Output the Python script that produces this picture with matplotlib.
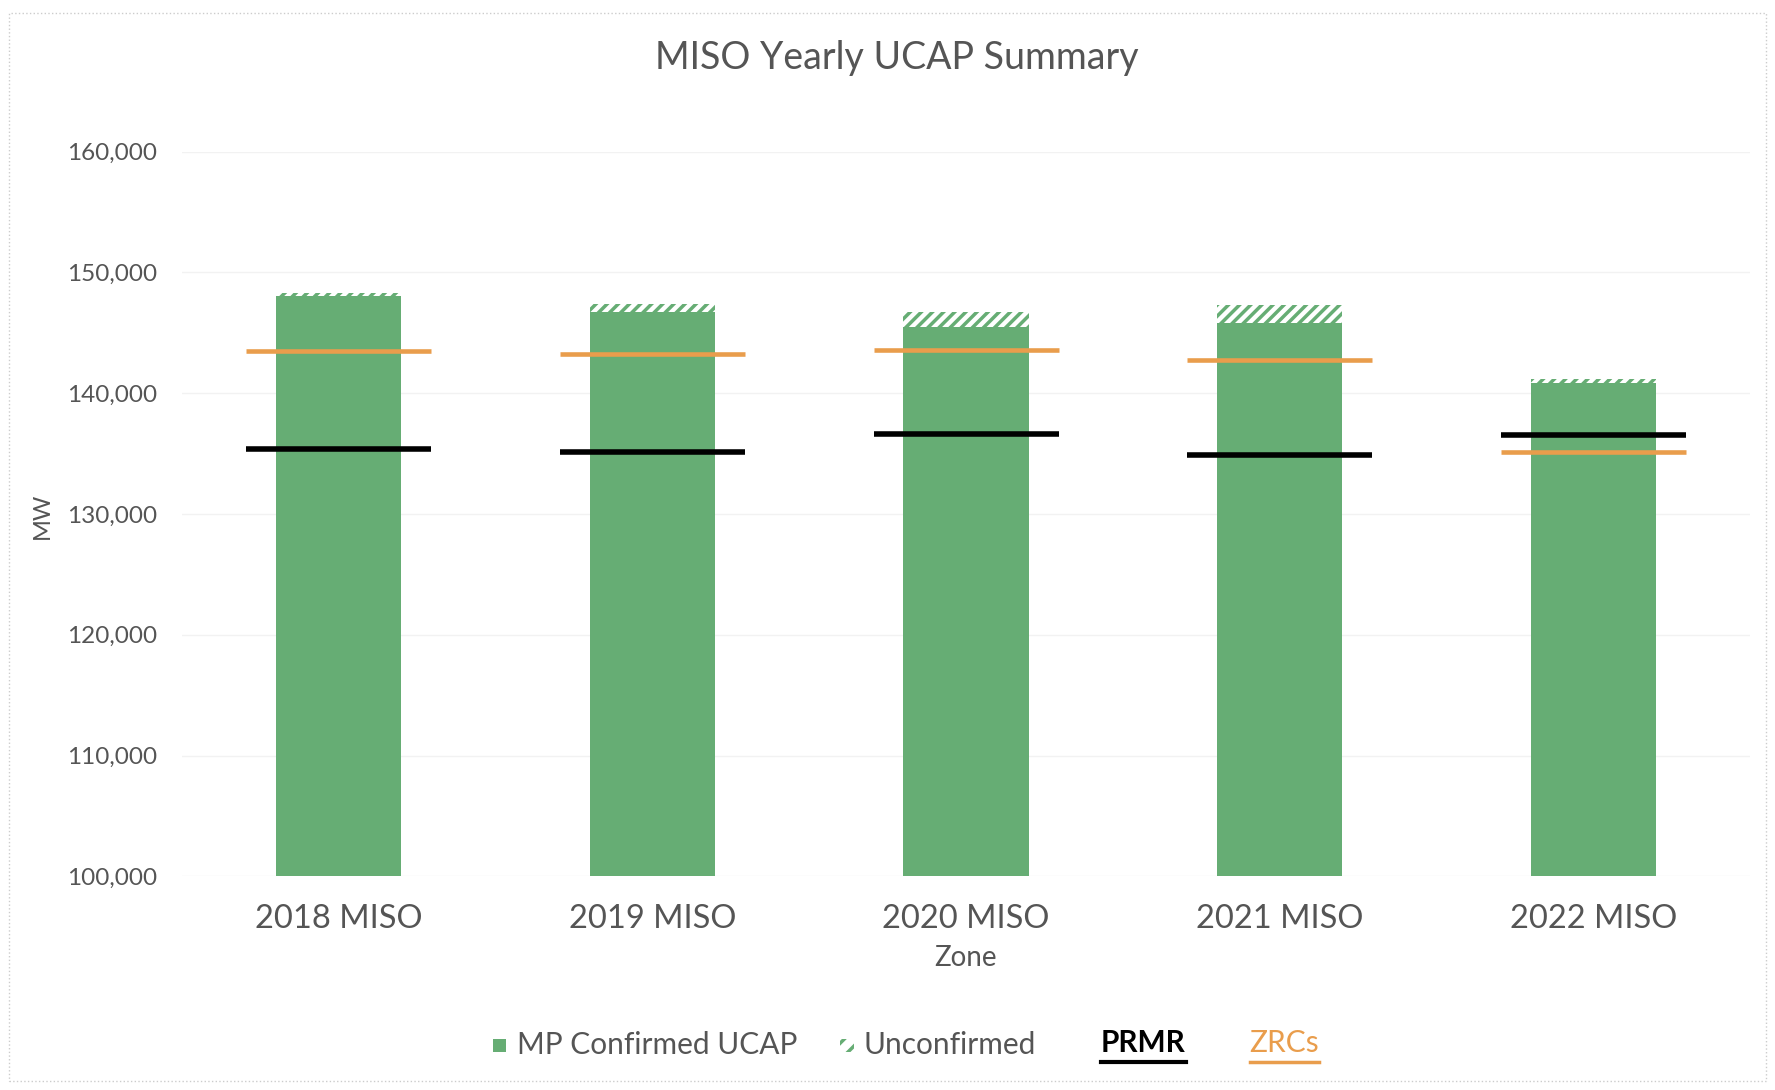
import matplotlib
matplotlib.use('Agg')
import matplotlib.pyplot as plt
from matplotlib.patches import Rectangle
from matplotlib.lines import Line2D
import numpy as np

plt.rcParams['font.family'] = ['Lato', 'DejaVu Sans']
plt.rcParams['hatch.linewidth'] = 2.5

zones = ['2018 MISO', '2019 MISO', '2020 MISO', '2021 MISO', '2022 MISO']
confirmed = [148000, 146700, 145500, 145800, 140800]
unconfirmed = [300, 650, 1200, 1500, 400]
prmr = [135350, 135100, 136650, 134850, 136500]
zrcs = [143500, 143250, 143600, 142750, 135100]

green = '#66ad74'
orange = '#e99d4c'
grey = '#555555'

fig = plt.figure(figsize=(17.75, 10.9), dpi=100)
ax = fig.add_axes([0.1025, 0.196, 0.8835, 0.665])

x = np.arange(len(zones))
base = 100000
ax.bar(x, np.array(confirmed) - base, bottom=base, width=0.40, color=green, zorder=2)
ax.bar(x, unconfirmed, bottom=confirmed, width=0.40, facecolor='white',
       edgecolor=green, hatch='///', linewidth=0, zorder=2)

for i in x:
    ax.hlines(prmr[i], i - 0.295, i + 0.295, color='black', linewidth=4, zorder=3)
    ax.hlines(zrcs[i], i - 0.295, i + 0.295, color=orange, linewidth=3.3, zorder=3)

ax.set_ylim(100000, 160000)
ax.set_xlim(-0.5, len(zones) - 0.5)
ax.set_yticks(np.arange(100000, 160001, 10000))
ax.set_yticklabels(['{:,}'.format(v) for v in range(100000, 160001, 10000)],
                   fontsize=17.5, color=grey)
ax.set_xticks(x)
ax.set_xticklabels(zones, fontsize=23.5, color=grey)
ax.tick_params(length=0)
ax.tick_params(axis='x', pad=20)
ax.tick_params(axis='y', pad=18)
ax.grid(axis='y', color='#f2f2f2', linewidth=1, zorder=0)
for s in ax.spines.values():
    s.set_visible(False)

ax.set_xlabel('Zone', fontsize=20, color=grey, labelpad=8)
fig.text(0.0236, 0.527, 'MW', rotation=90, fontsize=17, color=grey, ha='center', va='center')
fig.suptitle('MISO Yearly UCAP Summary', x=0.505, y=0.963, fontsize=27, color=grey)

# legend drawn by hand so PRMR/ZRCs look like underlined labels
ly = 0.041
fs = 21.5
fig.patches.append(Rectangle((0.2775, ly - 0.006), 0.0075, 0.012, transform=fig.transFigure,
                             facecolor=green, edgecolor='none'))
fig.text(0.2915, ly, 'MP Confirmed UCAP', fontsize=fs, color=grey, va='center')
fig.patches.append(Rectangle((0.4735, ly - 0.006), 0.0075, 0.012, transform=fig.transFigure,
                             facecolor='white', edgecolor=green, hatch='//', linewidth=0))
fig.text(0.4866, ly, 'Unconfirmed', fontsize=fs, color=grey, va='center')
fig.text(0.620, ly + 0.002, 'PRMR', fontsize=fs, color='black', va='center', fontweight='bold')
fig.lines.append(Line2D([0.620, 0.668], [ly - 0.015, ly - 0.015], transform=fig.transFigure,
                        color='black', linewidth=3))
fig.text(0.704, ly + 0.002, 'ZRCs', fontsize=fs, color=orange, va='center')
fig.lines.append(Line2D([0.704, 0.743], [ly - 0.015, ly - 0.015], transform=fig.transFigure,
                        color=orange, linewidth=2.5))

# page border from the scan
fig.patches.append(Rectangle((0.005, 0.008), 0.99, 0.98, transform=fig.transFigure,
                             facecolor='none', edgecolor='#cccccc', linewidth=1, linestyle=':'))

fig.savefig('out.png', dpi=100)
